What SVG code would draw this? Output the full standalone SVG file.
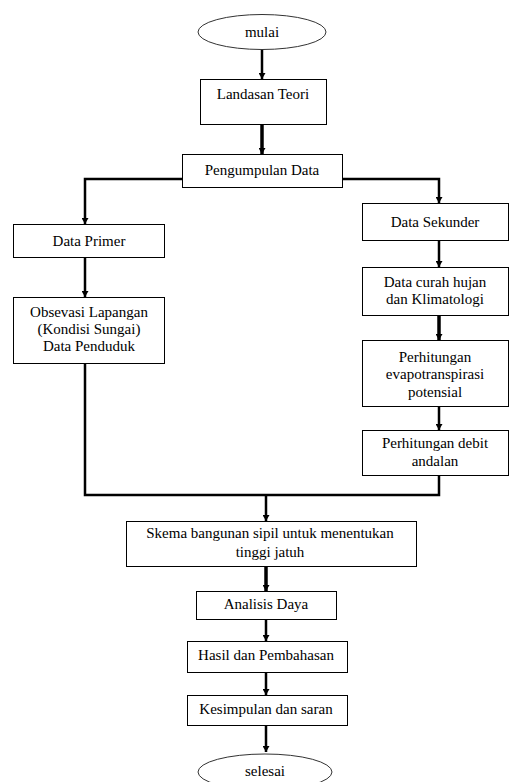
<svg xmlns="http://www.w3.org/2000/svg" width="510" height="782" viewBox="0 0 510 782">
<style>
.box{fill:#fff;stroke:#000;stroke-width:1}
.term{fill:#fff;stroke:#333;stroke-width:1}
.t{font-family:'Liberation Serif','Times New Roman',Tinos,'DejaVu Serif',serif;font-size:15px;fill:#000;text-anchor:middle}
.c{fill:none;stroke:#000;stroke-width:2.5}
.ct{fill:none;stroke:#000;stroke-width:3.5}
</style>
<defs>
<marker id="ah" viewBox="0 0 6 7" refX="6" refY="3.5" markerWidth="6" markerHeight="7" markerUnits="userSpaceOnUse" orient="auto">
<path d="M0,0 L6,3.5 L0,7 Z" fill="#000"/>
</marker>
</defs>
<rect width="510" height="782" fill="#fff"/>
<g id="connectors">
<path class="c" d="M262,50 V79" marker-end="url(#ah)"/>
<path class="ct" d="M262,124 V154" marker-end="url(#ah)"/>
<path class="c" d="M182,179 H85 V224" marker-end="url(#ah)"/>
<path class="c" d="M343,179 H439 V203" marker-end="url(#ah)"/>
<path class="c" d="M85,257 V297" marker-end="url(#ah)"/>
<path class="c" d="M439,241 V267" marker-end="url(#ah)"/>
<path class="ct" d="M439,316 V340" marker-end="url(#ah)"/>
<path class="c" d="M439,407 V430" marker-end="url(#ah)"/>
<path class="c" d="M85,364 V495 H439 V475"/>
<path class="c" d="M266,495 V521" marker-end="url(#ah)"/>
<path class="ct" d="M266,566 V591" marker-end="url(#ah)"/>
<path class="c" d="M266,619 V641" marker-end="url(#ah)"/>
<path class="c" d="M266,672 V695" marker-end="url(#ah)"/>
<path class="c" d="M266,725 V752" marker-end="url(#ah)"/>
</g>
<g id="mulai">
<ellipse class="term" cx="262" cy="32" rx="64" ry="17.5"/>
<text class="t" x="262" y="37" font-family="Liberation Serif, serif">mulai</text>
</g>
<g id="landasan">
<rect class="box" x="200.5" y="79.5" width="126" height="45"/>
<text class="t" x="263" y="99">Landasan Teori</text>
</g>
<g id="pengumpulan">
<rect class="box" x="182.5" y="154.5" width="160" height="33"/>
<text class="t" x="262" y="175">Pengumpulan Data</text>
</g>
<g id="primer">
<rect class="box" x="13.5" y="224.5" width="151" height="33"/>
<text class="t" x="89" y="246">Data Primer</text>
</g>
<g id="obsevasi">
<rect class="box" x="13.5" y="297.5" width="151" height="66"/>
<text class="t" x="89" y="317">Obsevasi Lapangan</text>
<text class="t" x="89" y="334">(Kondisi Sungai)</text>
<text class="t" x="89" y="351">Data Penduduk</text>
</g>
<g id="sekunder">
<rect class="box" x="362.5" y="203.5" width="146" height="37"/>
<text class="t" x="435" y="227">Data Sekunder</text>
</g>
<g id="curah">
<rect class="box" x="362.5" y="267.5" width="146" height="48"/>
<text class="t" x="435" y="287">Data curah hujan</text>
<text class="t" x="435" y="304">dan Klimatologi</text>
</g>
<g id="evapo">
<rect class="box" x="362.5" y="340.5" width="146" height="66"/>
<text class="t" x="435" y="362">Perhitungan</text>
<text class="t" x="435" y="379">evapotranspirasi</text>
<text class="t" x="435" y="397">potensial</text>
</g>
<g id="debit">
<rect class="box" x="362.5" y="430.5" width="146" height="45"/>
<text class="t" x="435" y="448">Perhitungan debit</text>
<text class="t" x="435" y="466">andalan</text>
</g>
<g id="skema">
<rect class="box" x="126.5" y="521.5" width="290" height="45"/>
<text class="t" x="270" y="538">Skema bangunan sipil untuk menentukan</text>
<text class="t" x="270" y="557">tinggi jatuh</text>
</g>
<g id="analisis">
<rect class="box" x="196.5" y="591.5" width="140" height="28"/>
<text class="t" x="266" y="609">Analisis Daya</text>
</g>
<g id="hasil">
<rect class="box" x="187.5" y="641.5" width="160" height="31"/>
<text class="t" x="266" y="660">Hasil dan Pembahasan</text>
</g>
<g id="kesimpulan">
<rect class="box" x="187.5" y="695.5" width="160" height="30"/>
<text class="t" x="266" y="714">Kesimpulan dan saran</text>
</g>
<g id="selesai">
<ellipse class="term" cx="265" cy="772" rx="67" ry="18"/>
<text class="t" x="265" y="776">selesai</text>
</g>
</svg>
